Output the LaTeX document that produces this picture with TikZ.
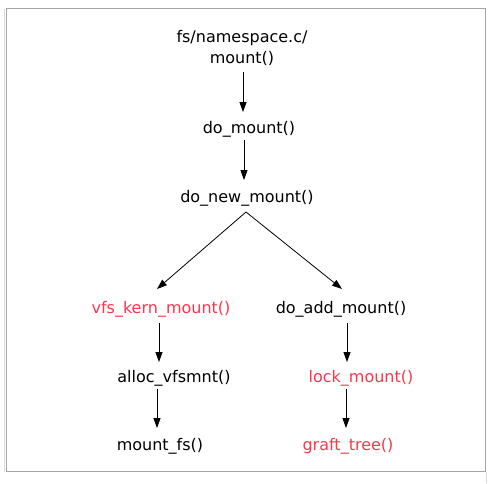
\documentclass[tikz,border=0pt]{standalone}
\usepackage{fontspec}
\setmainfont{DejaVu Sans}
\usetikzlibrary{arrows.meta}
\definecolor{redfn}{RGB}{250,55,75}
\definecolor{framegray}{RGB}{165,165,165}
\tikzset{
  fn/.style={inner sep=0pt, font=\fontsize{16}{20.5}\selectfont, align=center, text=black},
  redf/.style={fn, text=redfn},
  arr/.style={draw=black, line width=0.8pt, -{Triangle[length=10pt,width=7pt]}}
}
\begin{document}
\begin{tikzpicture}[x=1pt,y=1pt]
\useasboundingbox (0,0) rectangle (498,-483);
\draw[framegray, line width=1.6pt] (6.5,-8.5) rectangle (485.5,-471.5);
\draw[gray!30, line width=1pt] (4,-9) -- (4,-472);
\draw[gray!30, line width=1pt] (486,-472) -- (486,-483);

\node[fn] (ns)  at (242,-48)  {fs/namespace.c/\\mount()};
\node[fn] (dm)  at (249,-129) {do\_mount()};
\node[fn] (dnm) at (247,-198) {do\_new\_mount()};
\node[redf] (vkm) at (161,-309) {vfs\_kern\_mount()};
\node[fn] (dam) at (341,-309) {do\_add\_mount()};
\node[fn] (av)  at (174,-378) {alloc\_vfsmnt()};
\node[redf] (lm) at (361,-378) {lock\_mount()};
\node[fn] (mf)  at (160,-446) {mount\_fs()};
\node[redf] (gt) at (348,-446) {graft\_tree()};

\draw[arr] ([xshift=1pt,yshift=-24pt]ns.center) -- ([xshift=-6pt,yshift=17pt]dm.center);
\draw[arr] ([xshift=-5pt,yshift=-11pt]dm.center) -- ([xshift=-3pt,yshift=18pt]dnm.center);
\draw[arr] ([xshift=-1pt,yshift=-14pt]dnm.center) -- ([xshift=-4pt,yshift=20pt]vkm.center);
\draw[arr] ([xshift=-1pt,yshift=-14pt]dnm.center) -- ([xshift=1pt,yshift=20pt]dam.center);
\draw[arr] ([xshift=-2pt,yshift=-14pt]vkm.center) -- ([xshift=-15pt,yshift=16pt]av.center);
\draw[arr] ([xshift=-17pt,yshift=-11pt]av.center) -- ([xshift=-3pt,yshift=18pt]mf.center);
\draw[arr] ([xshift=6pt,yshift=-14pt]dam.center) -- ([xshift=-14pt,yshift=16pt]lm.center);
\draw[arr] ([xshift=-15pt,yshift=-11pt]lm.center) -- ([xshift=-2pt,yshift=18pt]gt.center);
\end{tikzpicture}
\end{document}
